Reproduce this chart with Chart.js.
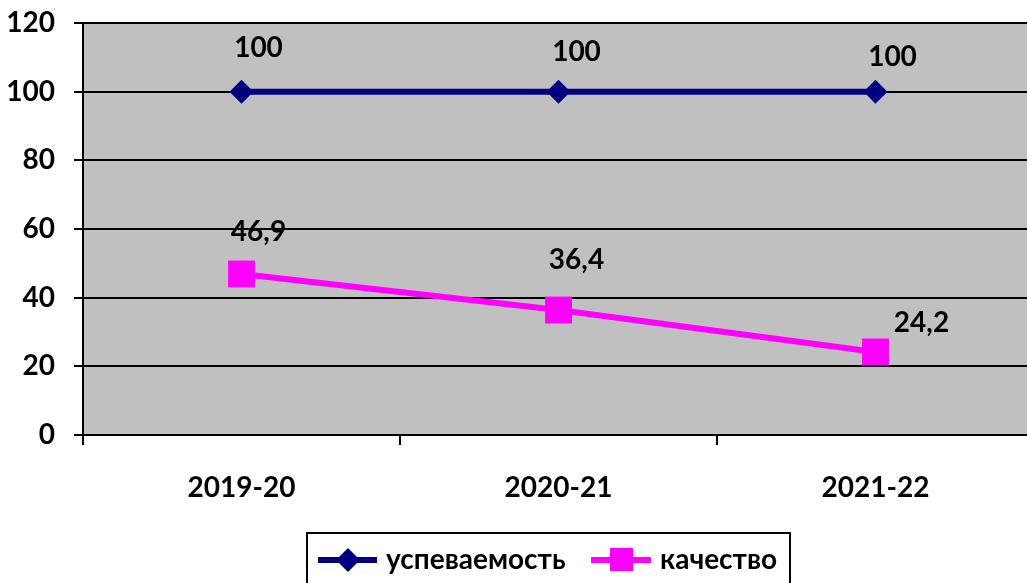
<!DOCTYPE html>
<html>
<head>
<meta charset="utf-8">
<script src="https://cdn.jsdelivr.net/npm/chart.js@4/dist/chart.umd.min.js"></script>
<style>
  html, body { margin: 0; padding: 0; background: #fff; overflow: hidden; }
  canvas { display: block; }
</style>
</head>
<body>
<canvas id="c" width="1053" height="583"></canvas>
<script>
const years = ['2019-20', '2020-21', '2021-22'];
const uspevaemost = [100, 100, 100];
const kachestvo = [46.9, 36.4, 24.2];
const seriesNames = ['успеваемость', 'качество'];
const yTicks = [0, 20, 40, 60, 80, 100, 120];

const FONT = 'Lato, "Noto Sans", sans-serif';
const NAVY = '#000080';
const PINK = '#FF00FF';

// label offsets from each point, [dx, dy]
const labelOffsets = [
  [[17, -44], [18, -40], [17, -35]],
  [[17, -42], [18, -50], [46, -29]]
];

const plotBg = {
  id: 'plotBg',
  beforeDraw(chart) {
    const { ctx, chartArea: a } = chart;
    ctx.save();
    ctx.fillStyle = '#C0C0C0';
    ctx.fillRect(a.left, a.top, a.right - a.left, a.bottom - a.top);
    ctx.restore();
  }
};

const valueLabels = {
  id: 'valueLabels',
  afterDatasetsDraw(chart) {
    const ctx = chart.ctx;
    ctx.save();
    ctx.font = 'bold 28px ' + FONT;
    ctx.fillStyle = '#000';
    ctx.textAlign = 'center';
    ctx.textBaseline = 'middle';
    chart.data.datasets.forEach((ds, i) => {
      chart.getDatasetMeta(i).data.forEach((pt, j) => {
        const off = labelOffsets[i][j];
        ctx.fillText(String(ds.data[j]).replace('.', ','), pt.x + off[0], pt.y + off[1]);
      });
    });
    ctx.restore();
  }
};

const boxLegend = {
  id: 'boxLegend',
  afterDraw(chart) {
    const ctx = chart.ctx;
    const y = 560;
    ctx.save();
    ctx.strokeStyle = '#000';
    ctx.lineWidth = 2;
    ctx.strokeRect(307, 533, 483, 60);

    // first entry
    ctx.strokeStyle = NAVY;
    ctx.lineWidth = 6;
    ctx.beginPath(); ctx.moveTo(318, y); ctx.lineTo(377, y); ctx.stroke();
    ctx.fillStyle = NAVY;
    ctx.beginPath();
    ctx.moveTo(348, y - 12); ctx.lineTo(360, y); ctx.lineTo(348, y + 12); ctx.lineTo(336, y);
    ctx.closePath(); ctx.fill();

    // second entry
    ctx.strokeStyle = PINK;
    ctx.beginPath(); ctx.moveTo(591, y); ctx.lineTo(651, y); ctx.stroke();
    ctx.fillStyle = PINK;
    ctx.fillRect(610, y - 12, 23, 23);

    ctx.fillStyle = '#000';
    ctx.font = 'bold 28px ' + FONT;
    ctx.textBaseline = 'middle';
    ctx.textAlign = 'left';
    ctx.fillText(seriesNames[0], 386, y);
    ctx.fillText(seriesNames[1], 660, y);
    ctx.restore();
  }
};

new Chart(document.getElementById('c'), {
  type: 'line',
  data: {
    labels: years,
    datasets: [
      {
        label: seriesNames[0], data: uspevaemost,
        borderColor: NAVY, backgroundColor: NAVY, borderWidth: 6,
        pointStyle: 'rectRot', pointRadius: 12, pointBorderWidth: 0,
        tension: 0
      },
      {
        label: seriesNames[1], data: kachestvo,
        borderColor: PINK, backgroundColor: PINK, borderWidth: 6,
        pointStyle: 'rect', pointRadius: 19, pointBorderWidth: 0,
        tension: 0
      }
    ]
  },
  options: {
    responsive: false,
    devicePixelRatio: 1,
    animation: false,
    events: [],
    layout: { padding: { top: 23, left: 0, right: 0, bottom: 0 } },
    plugins: { legend: { display: false }, tooltip: { enabled: false } },
    scales: {
      x: {
        offset: true,
        grid: { offset: true, drawOnChartArea: false, drawTicks: true, tickLength: 10, color: '#000', lineWidth: 2 },
        border: { color: '#000', width: 2 },
        ticks: { color: '#000', font: { family: FONT, size: 28, weight: 'bold' }, padding: 26, maxRotation: 0 },
        afterFit(s) { s.height = 148; s.paddingLeft = 0; s.paddingRight = 0; }
      },
      y: {
        min: 0, max: 120,
        afterBuildTicks(s) { s.ticks = yTicks.map(v => ({ value: v })); },
        grid: { color: '#000', lineWidth: 2, tickLength: 9 },
        border: { color: '#000', width: 2 },
        ticks: { color: '#000', font: { family: FONT, size: 28, weight: 'bold' }, padding: 19 },
        afterFit(s) { s.width = 83; s.paddingTop = 0; s.paddingBottom = 0; }
      }
    }
  },
  plugins: [plotBg, valueLabels, boxLegend]
});
</script>
</body>
</html>
